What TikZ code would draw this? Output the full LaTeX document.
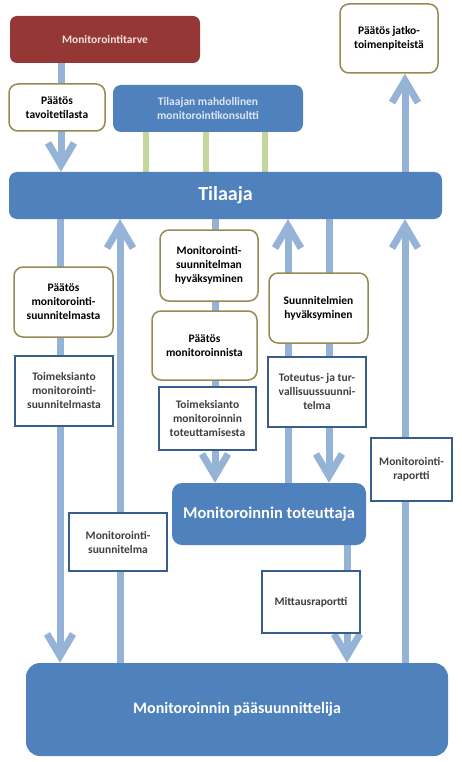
\documentclass[tikz,border=0pt]{standalone}
\usepackage{fontspec}
\setmainfont{Carlito}
\usetikzlibrary{arrows.meta}
\definecolor{actorblue}{HTML}{4F81BD}
\definecolor{needred}{HTML}{953735}
\definecolor{flowblue}{HTML}{95B3D7}
\definecolor{linkgreen}{HTML}{C3D69B}
\definecolor{decborder}{HTML}{948A54}
\definecolor{docborder}{HTML}{385D8A}
\definecolor{doctext}{HTML}{404040}
\pgfdeclarelayer{back}
\pgfsetlayers{back,main}
\tikzset{
  flow/.style={line width=7pt, draw=flowblue, -{Straight Barb[length=22pt,width=26pt]}},
  link/.style={line width=6pt, draw=linkgreen},
  decision/.style={draw=decborder, line width=1.5pt, rounded corners=9pt, fill=white,
    align=center, text=black, inner sep=2pt},
  doc/.style={draw=docborder, line width=1.3pt, fill=white, align=center, text=doctext, inner sep=2pt},
  actor/.style={fill=actorblue, rounded corners=8pt, text=white, align=center, inner sep=2pt},
}
\begin{document}
\begin{tikzpicture}[x=1pt,y=-1pt,font=\bfseries\fontsize{11.5}{14}\selectfont]
\useasboundingbox (0,0) rectangle (461,762);
% top row
\node[actor, fill=needred, text=needred!15, minimum width=190pt, minimum height=47pt, rounded corners=7pt]
  (tarve) at (105,39.5) {Monitorointitarve};
\node[decision, minimum width=98pt, minimum height=69pt] (jatko) at (389,38.5) {Päätös jatko-\\toimenpiteistä};
\node[decision, minimum width=96pt, minimum height=47pt] (tavoite) at (57,107.5) {Päätös\\tavoitetilasta};
\node[actor, text=actorblue!20, minimum width=190pt, minimum height=47pt] (konsultti) at (208,108.5)
  {Tilaajan mahdollinen\\monitorointikonsultti};
\node[actor, minimum width=433pt, minimum height=47pt, font=\bfseries\fontsize{20}{24}\selectfont]
  (tilaaja) at (225.5,195.5) {Tilaaja};
% middle
\node[decision, minimum width=99pt, minimum height=70pt] (pmsuun) at (63.5,302) {Päätös\\monitorointi-\\suunnitelmasta};
\node[doc, minimum width=98pt, minimum height=70pt] (tmsuun) at (64,391) {Toimeksianto\\monitorointi-\\suunnitelmasta};
\node[decision, minimum width=98pt, minimum height=71pt] (hyvmsuun) at (209,265.5) {Monitorointi-\\suunnitelman\\hyväksyminen};
\node[decision, minimum width=105pt, minimum height=69pt] (pmon) at (204.5,345.5) {Päätös\\monitoroinnista};
\node[doc, minimum width=97pt, minimum height=63pt] (ttot) at (207.5,418.5) {Toimeksianto\\monitoroinnin\\toteuttamisesta};
\node[decision, minimum width=99pt, minimum height=70pt] (hyvsuun) at (318.5,308) {Suunnitelmien\\hyväksyminen};
\node[doc, minimum width=98pt, minimum height=70pt] (tts) at (317,392) {Toteutus- ja tur-\\vallisuussuunni-\\telma};
\node[doc, minimum width=81pt, minimum height=63pt] (mraportti) at (411.5,469.5) {Monitorointi-\\raportti};
\node[actor, minimum width=194pt, minimum height=62pt, rounded corners=10pt, font=\bfseries\fontsize{16.5}{20}\selectfont]
  (toteuttaja) at (269,514) {Monitoroinnin toteuttaja};
\node[doc, minimum width=98pt, minimum height=58pt] (msuun) at (118,542) {Monitorointi-\\suunnitelma};
\node[doc, minimum width=98pt, minimum height=62pt] (mittaus) at (311,602) {Mittausraportti};
% bottom
\node[actor, minimum width=422pt, minimum height=93pt, rounded corners=14pt, font=\bfseries\fontsize{16}{19}\selectfont]
  (paasuun) at (237,709.5) {Monitoroinnin pääsuunnittelija};
\begin{pgfonlayer}{back}
\draw[flow] (tarve.south -| 61,0) -- (tilaaja.north -| 61,0);
\draw[flow] (tilaaja.north -| 405,0) -- (jatko.south -| 405,0);
\foreach \gx in {146,206,265}
  \draw[link] (konsultti.south -| \gx,0) -- (tilaaja.north -| \gx,0);
\draw[flow] (tilaaja.south -| 60,0) -- (paasuun.north -| 60,0);
\draw[flow] (paasuun.north -| 120,0) -- (tilaaja.south -| 120,0);
\draw[flow] (tilaaja.south -| 215,0) -- (toteuttaja.north -| 215,0);
\draw[flow] (toteuttaja.north -| 288,0) -- (tilaaja.south -| 288,0);
\draw[flow] (tilaaja.south -| 329,0) -- (toteuttaja.north -| 329,0);
\draw[flow] (paasuun.north -| 405,0) -- (tilaaja.south -| 405,0);
\draw[flow] (toteuttaja.south -| 347,0) -- (paasuun.north -| 347,0);
\end{pgfonlayer}
\end{tikzpicture}
\end{document}
